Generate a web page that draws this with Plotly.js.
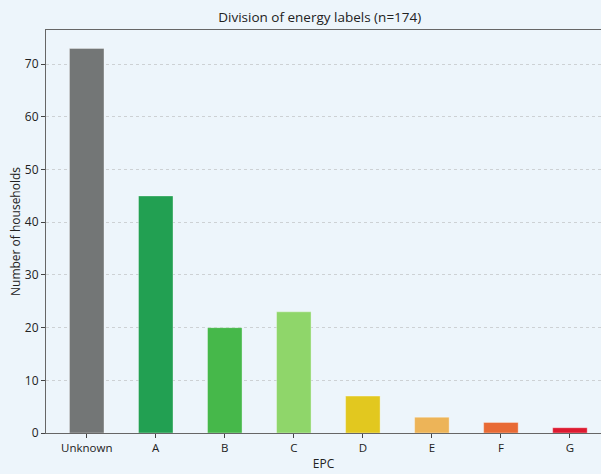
<!DOCTYPE html>
<html>
<head>
<meta charset="utf-8">
<script src="https://cdn.plot.ly/plotly-3.0.1.min.js"></script>
<style>html,body{margin:0;padding:0;background:#EDF5FB;}#chart{width:601px;height:474px;}</style>
</head>
<body>
<div id="chart"></div>
<script>
const categories = ["Unknown", "A", "B", "C", "D", "E", "F", "G"];
const households = [73, 45, 20, 23, 7, 3, 2, 1];
const barColors = ["#737676", "#22A052", "#46B84A", "#8FD66A", "#E2C81F", "#EDB458", "#E86A35", "#DD1A30"];
const yTicks = [0, 10, 20, 30, 40, 50, 60, 70];

const trace = {
  type: "bar",
  x: categories.map((c, i) => i),
  y: households,
  width: 0.5,
  marker: { color: barColors, line: { color: "rgba(255,255,255,0.35)", width: 1 } },
  hoverinfo: "skip"
};

const layout = {
  width: 601, height: 474,
  margin: { l: 46, r: 0, t: 30, b: 41 },
  paper_bgcolor: "#EDF5FB",
  plot_bgcolor: "#EDF5FB",
  font: { family: "Open Sans, Noto Sans, sans-serif", color: "#222", size: 12 },
  title: { text: "Division of energy labels (n=174)", x: 0.532, xanchor: "center", y: 0.963, yanchor: "middle", font: { size: 13.5, color: "#222" } },
  showlegend: false,
  bargap: 0,
  xaxis: {
    range: [-0.59, 7.45],
    tickmode: "array",
    tickvals: categories.map((c, i) => i),
    ticktext: categories,
    showline: true, mirror: true, linecolor: "#666", linewidth: 1,
    ticks: "outside", ticklen: 4, tickcolor: "#444",
    showgrid: false, zeroline: false,
    tickfont: { size: 11.5 },
    title: { text: "EPC", font: { size: 12 }, standoff: 5 }
  },
  yaxis: {
    range: [0, 76.5],
    tickmode: "array",
    tickvals: yTicks,
    showline: true, linecolor: "#666", linewidth: 1,
    ticks: "outside", ticklen: 4, tickcolor: "#444",
    showgrid: true, gridcolor: "#CDD1D4", griddash: "3px,3px", gridwidth: 1,
    zeroline: false,
    layer: "above traces",
    tickfont: { size: 12 },
    title: { text: "Number of households", font: { size: 12 }, standoff: 1 }
  }
};

Plotly.newPlot("chart", [trace], layout, { displayModeBar: false, staticPlot: true });
</script>
</body>
</html>
